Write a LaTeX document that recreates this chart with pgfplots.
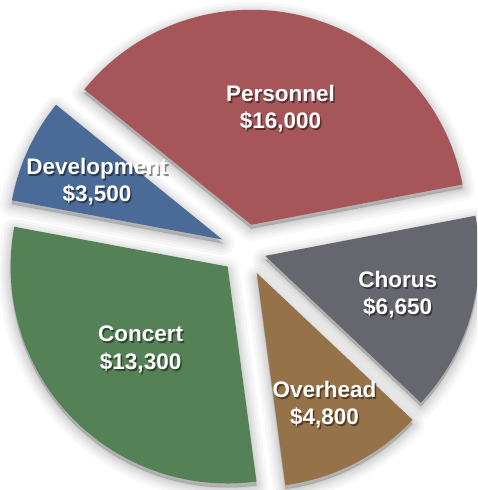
\documentclass[border=0pt]{standalone}
\usepackage{fontspec}
\setmainfont{Liberation Sans}
\usepackage{pgfplots}
\usepackage{pgfplotstable}
\pgfplotsset{compat=1.18}
\definecolor{pers}{RGB}{166,86,89}
\definecolor{dev}{RGB}{74,106,152}
\definecolor{conc}{RGB}{84,129,86}
\definecolor{over}{RGB}{150,114,73}
\definecolor{chor}{RGB}{102,102,110}
\pgfplotstableread{
name value explode radius labeldist col
Personnel 16000 26 215 120 pers
Development 3500 25 214 138 dev
Concert 13300 24 217 120 conc
Overhead 4800 26 214 148 over
Chorus 6650 21 214 138 chor
}\budget
\tikzset{lab/.style={font=\fontsize{22.5}{27.5}\selectfont\bfseries, align=center}}
\newcommand\putlab[2]{%
  \edef\temp{\noexpand\node[lab,#1] at (axis cs:\csname LX#2\endcsname,\csname LY#2\endcsname) {\csname N#2\endcsname\noexpand\\\noexpand\$\noexpand\pgfmathprintnumber[fixed,precision=0,1000 sep={,},assume math mode=true]{\csname V#2\endcsname}};}\temp}
\begin{document}
\begin{tikzpicture}
\useasboundingbox (0,0) rectangle (477pt,490pt);
\clip (0,0) rectangle (477pt,490pt);
\fill[white] (0,0) rectangle (477pt,490pt);
\def\total{0}
\pgfplotsforeachungrouped \i in {0,...,4}{%
  \pgfplotstablegetelem{\i}{value}\of\budget
  \pgfmathsetmacro{\total}{\total+\pgfplotsretval/1000}%
}
\xdef\cum{10.8}
\pgfplotsforeachungrouped \i in {0,...,4}{%
  \pgfplotstablegetelem{\i}{value}\of\budget
  \expandafter\xdef\csname V\i\endcsname{\pgfplotsretval}%
  \pgfmathsetmacro{\sV}{\pgfplotsretval/1000}%
  \pgfplotstablegetelem{\i}{explode}\of\budget \let\ex\pgfplotsretval
  \pgfplotstablegetelem{\i}{radius}\of\budget \let\rr\pgfplotsretval
  \pgfplotstablegetelem{\i}{labeldist}\of\budget \let\ld\pgfplotsretval
  \pgfplotstablegetelem{\i}{name}\of\budget
  \expandafter\xdef\csname N\i\endcsname{\pgfplotsretval}%
  \pgfplotstablegetelem{\i}{col}\of\budget
  \expandafter\xdef\csname C\i\endcsname{\pgfplotsretval}%
  \pgfmathsetmacro{\sA}{\cum}%
  \pgfmathsetmacro{\sB}{\cum+360*\sV/\total}%
  \pgfmathsetmacro{\sM}{(\sA+\sB)/2}%
  \pgfmathsetmacro{\px}{245+\ex*cos(\sM)}%
  \pgfmathsetmacro{\py}{240+\ex*sin(\sM)}%
  \pgfmathsetmacro{\lx}{\px+\ld*cos(\sM)}%
  \pgfmathsetmacro{\ly}{\py+\ld*sin(\sM)}%
  \expandafter\xdef\csname P\i\endcsname{(axis cs:\px,\py) -- ++(\sA:\rr pt) arc[start angle=\sA, end angle=\sB, radius=\rr pt] -- cycle}%
  \expandafter\xdef\csname LX\i\endcsname{\lx}%
  \expandafter\xdef\csname LY\i\endcsname{\ly}%
  \xdef\cum{\sB}%
}
\begin{axis}[width=477pt,height=490pt,scale only axis,hide axis,
  xmin=0,xmax=477,ymin=0,ymax=490,clip=false]
\pgfplotsforeachungrouped \i in {0,...,4}{%
  \pgfplotsforeachungrouped \w in {24,18,13,9,5,2}{%
    \edef\temp{\noexpand\filldraw[black,opacity=0.03,line width=\w pt,line join=round,yshift=-4pt] \csname P\i\endcsname;}\temp
  }%
}
\pgfplotsforeachungrouped \i in {0,...,4}{%
  \edef\temp{\noexpand\fill[\csname C\i\endcsname] \csname P\i\endcsname;}\temp
}
\pgfplotsforeachungrouped \i in {0,...,4}{%
  \putlab{text=black,opacity=0.45,xshift=1.5pt,yshift=-2pt}{\i}%
  \putlab{text=white}{\i}%
}
\end{axis}
\end{tikzpicture}
\end{document}
